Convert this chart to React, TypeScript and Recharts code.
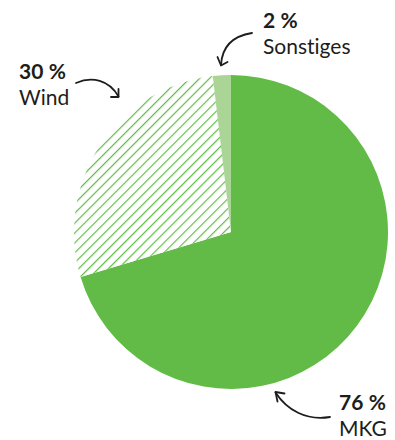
import React from "react";
import { PieChart, Pie, Cell, Customized } from "recharts";

// shares as printed on the chart (the pie normalises them)
const categories = ["MKG", "Wind", "Sonstiges"];
const shares = [76, 30, 2];
const sliceFills = ["#62bb47", "url(#windHatch)", "#aad597"];

const data = categories.map((name, i) => ({ name, value: shares[i] }));

// annotation placement: [x, baseline of percent line]
const labelPos: Record<string, [number, number]> = {
    MKG: [339, 410],
    Wind: [19, 79],
    Sonstiges: [263, 28],
};

const arrows = [
    { curve: "M76,83 C92,76 109,80 118.5,96.5", head: "M118.5,89 L118.5,97 L111,97" },
    { curve: "M252,33 C233,36 222,47 221,65", head: "M217.5,57 L221,65.5 L227.5,62" },
    { curve: "M330,417 C306,421 287,410 275.5,392.5", head: "M284.5,393.5 L275.5,392 L277.5,401.5" },
];

const Annotations = () => (
    <g>
        {arrows.map((a, i) => (
            <g key={i} fill="none" stroke="#1d1d1b" strokeWidth={1.8} strokeLinecap="round" strokeLinejoin="round">
                <path d={a.curve} />
                <path d={a.head} />
            </g>
        ))}
        {data.map((d) => {
            const [x, y] = labelPos[d.name];
            return (
                <g
                    key={d.name}
                    fontFamily="Lato, 'Open Sans', sans-serif"
                    fontSize={21}
                    fill="#1d1d1b"
                    style={{ fontVariantLigatures: "none" }}
                >
                    <text x={x} y={y} fontWeight={700}>
                        {d.value}{"\u202F"}%
                    </text>
                    <text x={x} y={y + 26}>{d.name}</text>
                </g>
            );
        })}
    </g>
);

export default function App() {
    return (
        <div style={{ position: "absolute", left: 0, top: 0, background: "#fff" }}>
            <PieChart width={395} height={440} margin={{ top: 0, right: 0, bottom: 0, left: 0 }}>
                <defs>
                    <pattern id="windHatch" width={7} height={7} patternUnits="userSpaceOnUse" patternTransform="rotate(45)">
                        <rect width={7} height={7} fill="#fff" />
                        <line x1={0} y1={0} x2={0} y2={7} stroke="#62bb47" strokeWidth={2.4} />
                    </pattern>
                </defs>
                <Pie
                    data={data}
                    dataKey="value"
                    nameKey="name"
                    cx={231}
                    cy={232}
                    outerRadius={157}
                    startAngle={90}
                    endAngle={-270}
                    stroke="none"
                    isAnimationActive={false}
                >
                    {data.map((d, i) => (
                        <Cell key={d.name} fill={sliceFills[i]} />
                    ))}
                </Pie>
                <Customized component={Annotations} />
            </PieChart>
        </div>
    );
}
